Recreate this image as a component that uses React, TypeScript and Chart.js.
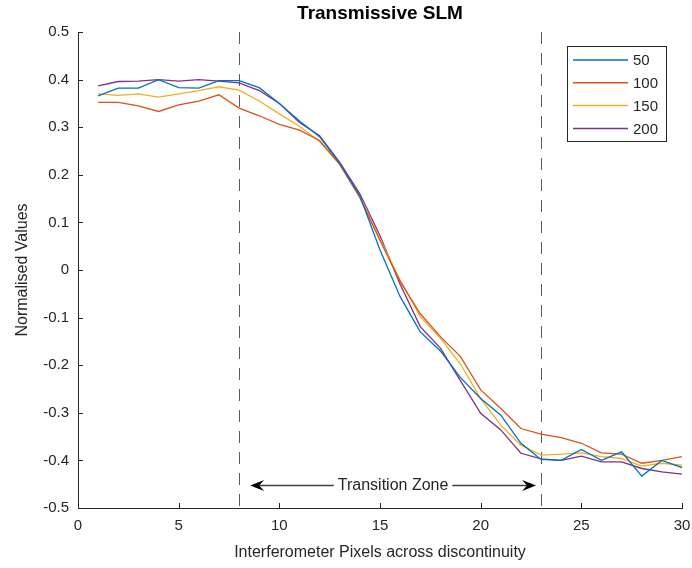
import React, { useEffect, useRef } from "react";
import { Chart, registerables } from "chart.js";

Chart.register(...registerables);

// ---- Data ----
const xValues = [1, 2, 3, 4, 5, 6, 7, 8, 9, 10, 11, 12, 13, 14, 15, 16, 17, 18, 19, 20, 21, 22, 23, 24, 25, 26, 27, 28, 29, 30];
const series50 = [0.366, 0.382, 0.382, 0.4, 0.383, 0.382, 0.398, 0.398, 0.383, 0.35, 0.313, 0.28, 0.224, 0.156, 0.042, -0.056, -0.13, -0.17, -0.226, -0.27, -0.305, -0.364, -0.398, -0.4, -0.377, -0.4, -0.382, -0.433, -0.4, -0.415];
const series100 = [0.352, 0.352, 0.345, 0.333, 0.347, 0.355, 0.368, 0.34, 0.324, 0.306, 0.294, 0.272, 0.222, 0.152, 0.062, -0.024, -0.092, -0.14, -0.182, -0.252, -0.291, -0.333, -0.345, -0.352, -0.364, -0.384, -0.387, -0.406, -0.4, -0.392];
const series150 = [0.37, 0.367, 0.37, 0.363, 0.37, 0.377, 0.385, 0.378, 0.355, 0.328, 0.302, 0.27, 0.222, 0.155, 0.065, -0.021, -0.098, -0.143, -0.198, -0.27, -0.326, -0.368, -0.389, -0.387, -0.384, -0.392, -0.396, -0.412, -0.406, -0.41];
const series200 = [0.387, 0.396, 0.397, 0.4, 0.397, 0.4, 0.397, 0.393, 0.377, 0.35, 0.31, 0.282, 0.226, 0.16, 0.072, -0.03, -0.119, -0.164, -0.233, -0.301, -0.336, -0.385, -0.397, -0.4, -0.391, -0.403, -0.403, -0.417, -0.424, -0.429];
const seriesLabels = ["50", "100", "150", "200"];
const xTicks = [0, 5, 10, 15, 20, 25, 30];
const yTicks = [-0.5, -0.4, -0.3, -0.2, -0.1, 0, 0.1, 0.2, 0.3, 0.4, 0.5];
const zoneBounds = [8, 23];
const arrowFrom = 8.55;
const arrowTo = 22.75;
const arrowLevel = -0.452;
const chartTitle = "Transmissive SLM";
const xTitle = "Interferometer Pixels across discontinuity";
const yTitle = "Normalised Values";
const zoneLabel = "Transition Zone";

// ---- Styles ----
const COLORS = ["#0072BD", "#D95319", "#EDB120", "#7E2F8E"];
const FONT = "'Liberation Sans', Arial, Helvetica, sans-serif";
const TEXT = "#262626";

const extrasPlugin = {
  id: "extras",
  beforeDatasetsDraw(chart: any) {
    const { ctx, chartArea, scales } = chart;
    const x = scales.x;
    ctx.save();
    ctx.strokeStyle = "#5a5a5a";
    ctx.lineWidth = 1;
    ctx.setLineDash([12, 9]);
    zoneBounds.forEach((v) => {
      const px = Math.round(x.getPixelForValue(v)) + 0.5;
      ctx.beginPath();
      ctx.moveTo(px, chartArea.top);
      ctx.lineTo(px, chartArea.bottom);
      ctx.stroke();
    });
    ctx.restore();
  },
  afterDraw(chart: any) {
    const { ctx, chartArea, scales } = chart;
    const x = scales.x;
    const y = scales.y;
    ctx.save();
    // inward tick marks
    ctx.strokeStyle = TEXT;
    ctx.lineWidth = 1;
    yTicks.forEach((v) => {
      const py = Math.round(y.getPixelForValue(v)) + 0.5;
      ctx.beginPath();
      ctx.moveTo(chartArea.left, py);
      ctx.lineTo(chartArea.left + 5, py);
      ctx.stroke();
    });
    xTicks.forEach((v) => {
      const px = Math.round(x.getPixelForValue(v)) + 0.5;
      ctx.beginPath();
      ctx.moveTo(px, chartArea.bottom);
      ctx.lineTo(px, chartArea.bottom - 5);
      ctx.stroke();
    });

    // title
    ctx.fillStyle = "#000";
    ctx.font = `bold 19px ${FONT}`;
    ctx.textAlign = "center";
    ctx.textBaseline = "middle";
    ctx.fillText(chartTitle, (chartArea.left + chartArea.right) / 2, 14);

    // transition zone arrow
    const ax1 = x.getPixelForValue(arrowFrom);
    const ax2 = x.getPixelForValue(arrowTo);
    const ay = Math.round(y.getPixelForValue(arrowLevel)) + 0.5;
    const mid = (ax1 + ax2) / 2;
    ctx.font = `16px ${FONT}`;
    const tw = ctx.measureText(zoneLabel).width;
    const gap = tw / 2 + 4;
    ctx.strokeStyle = "#404040";
    ctx.lineWidth = 1.3;
    ctx.beginPath();
    ctx.moveTo(ax1 + 8, ay);
    ctx.lineTo(mid - gap, ay);
    ctx.moveTo(mid + gap, ay);
    ctx.lineTo(ax2 - 8, ay);
    ctx.stroke();
    ctx.fillStyle = "#000";
    const head = (tip: number, dir: number) => {
      ctx.beginPath();
      ctx.moveTo(tip, ay);
      ctx.lineTo(tip + dir * 14, ay - 5.5);
      ctx.lineTo(tip + dir * 9, ay);
      ctx.lineTo(tip + dir * 14, ay + 5.5);
      ctx.closePath();
      ctx.fill();
    };
    head(ax1, 1);
    head(ax2, -1);
    ctx.fillStyle = TEXT;
    ctx.textAlign = "center";
    ctx.textBaseline = "middle";
    ctx.fillText(zoneLabel, mid, ay);

    // legend
    const bx = 567.5, by = 46.5, bw = 99, bh = 95;
    ctx.fillStyle = "#fff";
    ctx.fillRect(bx, by, bw, bh);
    ctx.strokeStyle = TEXT;
    ctx.lineWidth = 1;
    ctx.strokeRect(bx, by, bw, bh);
    ctx.font = `15px ${FONT}`;
    ctx.textAlign = "left";
    chart.data.datasets.forEach((ds: any, i: number) => {
      const ry = 60 + i * 22.8;
      ctx.strokeStyle = ds.borderColor;
      ctx.lineWidth = 1.5;
      ctx.beginPath();
      ctx.moveTo(573, ry);
      ctx.lineTo(628, ry);
      ctx.stroke();
      ctx.fillStyle = TEXT;
      ctx.fillText(ds.label, 633, ry + 1);
    });
    ctx.restore();
  },
};

export default function App() {
  const canvasRef = useRef<HTMLCanvasElement | null>(null);

  useEffect(() => {
    if (!canvasRef.current) return;
    const seriesAll = [series50, series100, series150, series200];
    const chart = new Chart(canvasRef.current, {
      type: "line",
      data: {
        datasets: seriesAll.map((s, i) => ({
          label: seriesLabels[i],
          data: xValues.map((xv, j) => ({ x: xv, y: s[j] })),
          borderColor: COLORS[i],
          backgroundColor: COLORS[i],
          borderWidth: 1.3,
          pointRadius: 0,
          tension: 0,
          fill: false,
        })),
      },
      options: {
        responsive: false,
        animation: false,
        devicePixelRatio: 1,
        layout: { padding: { top: 32, right: 10, left: 0, bottom: 0 } },
        plugins: {
          legend: { display: false },
          title: { display: false },
          tooltip: { enabled: false },
        },
        scales: {
          x: {
            type: "linear",
            min: 0,
            max: 30,
            afterBuildTicks: (s: any) => {
              s.ticks = xTicks.map((v) => ({ value: v }));
            },
            afterFit: (s: any) => {
              s.height = 60;
              s.paddingLeft = 0;
              s.paddingRight = 0;
            },
            grid: { display: false, drawTicks: false },
            border: { display: true, color: TEXT, width: 1 },
            ticks: {
              color: TEXT,
              font: { family: FONT, size: 15 },
              padding: 9,
              maxRotation: 0,
              autoSkip: false,
              callback: (v: any) => String(v),
            },
            title: {
              display: true,
              text: xTitle,
              color: TEXT,
              font: { family: FONT, size: 16 },
              padding: { top: 0, bottom: 6 },
            },
          },
          y: {
            type: "linear",
            min: -0.5,
            max: 0.5,
            afterBuildTicks: (s: any) => {
              s.ticks = yTicks.map((v) => ({ value: v }));
            },
            afterFit: (s: any) => {
              s.width = 78;
              s.paddingTop = 0;
              s.paddingBottom = 0;
            },
            grid: { display: false, drawTicks: false },
            border: { display: true, color: TEXT, width: 1 },
            ticks: {
              color: TEXT,
              font: { family: FONT, size: 15 },
              padding: 9,
              autoSkip: false,
              callback: (v: any) => String(Math.round(v * 10) / 10),
            },
            title: {
              display: true,
              text: yTitle,
              color: TEXT,
              font: { family: FONT, size: 16 },
              padding: { top: 13, bottom: 0 },
            },
          },
        },
      },
      plugins: [extrasPlugin],
    });
    return () => chart.destroy();
  }, []);

  return (
    <div style={{ position: "fixed", left: 0, top: 0, width: 692, height: 568, background: "#fff" }}>
      <canvas ref={canvasRef} width={692} height={568} style={{ width: 692, height: 568, display: "block" }} />
    </div>
  );
}
